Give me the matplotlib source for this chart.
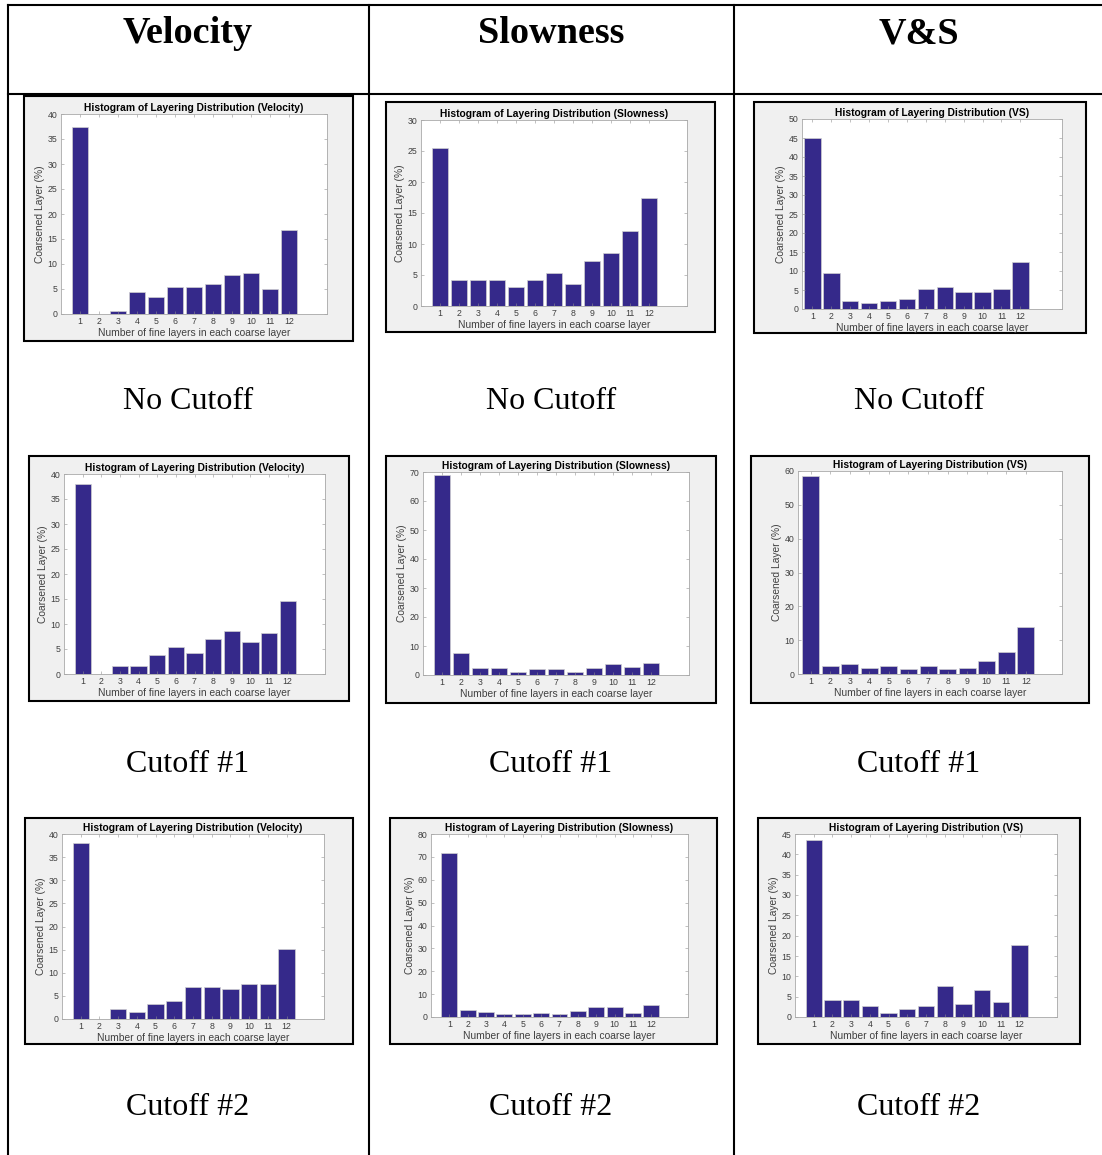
import matplotlib
matplotlib.use('Agg')
import matplotlib.pyplot as plt
from matplotlib.lines import Line2D
from matplotlib.patches import Rectangle

# --- datos (porcentaje de capas por número de capas finas) ---
layers = list(range(1, 13))

vel_none = [37.5, 0.0, 0.6, 4.4, 3.3, 5.4, 5.4, 6.0, 7.7, 8.1, 4.9, 16.8]
slo_none = [25.5, 4.2, 4.2, 4.2, 3.0, 4.2, 5.4, 3.6, 7.3, 8.5, 12.1, 17.5]
vs_none = [45.0, 9.5, 2.2, 1.7, 2.2, 2.7, 5.2, 5.7, 4.4, 4.4, 5.2, 12.5]

vel_cut1 = [38.0, 0.0, 1.6, 1.6, 3.8, 5.4, 4.3, 7.1, 8.7, 6.5, 8.2, 14.7]
slo_cut1 = [69.0, 7.5, 2.3, 2.3, 1.0, 2.0, 2.0, 1.0, 2.3, 3.8, 2.7, 4.0]
vs_cut1 = [58.5, 2.3, 3.0, 1.9, 2.3, 1.5, 2.3, 1.5, 1.9, 3.8, 6.4, 14.0]

vel_cut2 = [38.0, 0.0, 2.2, 1.6, 3.2, 3.8, 7.0, 7.0, 6.5, 7.6, 7.6, 15.2]
slo_cut2 = [71.5, 3.0, 2.0, 1.1, 1.4, 1.6, 1.1, 2.7, 4.3, 4.3, 1.9, 5.2]
vs_cut2 = [43.5, 4.2, 4.2, 2.8, 1.0, 1.9, 2.8, 7.6, 3.3, 6.6, 3.7, 17.7]

col_titles = ['Velocity', 'Slowness', 'V&S']
panel_names = ['Velocity', 'Slowness', 'VS']
row_captions = ['No Cutoff', 'Cutoff #1', 'Cutoff #2']

W, H = 1102, 1155
BAR = '#35298a'


def rect(l, t, r, b):
    # píxeles (origen arriba-izquierda) -> fracción de figura
    return [l / W, 1 - b / H, (r - l) / W, (b - t) / H]


fig = plt.figure(figsize=(W / 100, H / 100), dpi=100)
fig.patch.set_facecolor('white')

# --- líneas de la tabla ---
for x in [8, 369, 734]:
    fig.add_artist(Line2D([x / W, x / W], [1 - 5 / H, 0], transform=fig.transFigure,
                          color='black', lw=1.5))
for y in [5, 94]:
    fig.add_artist(Line2D([8 / W, 1], [1 - y / H, 1 - y / H], transform=fig.transFigure,
                          color='black', lw=1.5))

col_centers = [188, 551, 919]
for cx, t in zip(col_centers, col_titles):
    fig.text(cx / W, 1 - 43 / H, t, ha='center', va='baseline', fontsize=27.5,
             fontweight='bold', family='Liberation Serif')

caption_base = [409, 772, 1115]
for ry, cap in zip(caption_base, row_captions):
    for cx in col_centers:
        fig.text(cx / W, 1 - ry / H, cap, ha='center', va='baseline', fontsize=23,
                 family='Liberation Serif')

# --- paneles: (marco, ejes) en píxeles ---
frames = [
    [(24, 96, 353, 341), (61, 114, 327, 314)],
    [(386, 102, 715, 332), (421, 120, 687, 306)],
    [(754, 102, 1086, 333), (802, 119, 1062, 309)],
    [(29, 456, 349, 701), (64, 474, 325, 674)],
    [(386, 456, 716, 703), (423, 472, 689, 675)],
    [(751, 456, 1089, 703), (798, 471, 1062, 674)],
    [(25, 818, 353, 1044), (62, 834, 324, 1019)],
    [(390, 818, 717, 1044), (431, 834, 688, 1017)],
    [(758, 818, 1080, 1044), (795, 834, 1057, 1017)],
]
xlims = [(0, 14), (0, 14), (0.45, 14.2),
         (0, 14), (0, 14), (0.35, 13.85),
         (0, 14), (0, 14), (0, 14)]
series = [vel_none, slo_none, vs_none,
          vel_cut1, slo_cut1, vs_cut1,
          vel_cut2, slo_cut2, vs_cut2]
ylims = [(40, 5), (30, 5), (50, 5),
         (40, 5), (70, 10), (60, 10),
         (40, 5), (80, 10), (45, 5)]

for i, (fr, vals, (ymax, step)) in enumerate(zip(frames, series, ylims)):
    (fl, ft, frr, fb), (al, at, ar, ab) = fr
    fig.add_artist(Rectangle((fl / W, 1 - fb / H), (frr - fl) / W, (fb - ft) / H,
                             transform=fig.transFigure, facecolor='#f0f0f0',
                             edgecolor='black', lw=1.5, zorder=0))
    ax = fig.add_axes(rect(al, at, ar, ab))
    ax.bar(layers, vals, width=0.87, color=BAR, edgecolor='#d0d0d0', linewidth=0.5)
    ax.set_xlim(*xlims[i])
    ax.set_ylim(0, ymax)
    ax.set_xticks(layers)
    ax.set_yticks(range(0, ymax + 1, step))
    ax.tick_params(direction='in', length=2, width=0.4, colors='#909090',
                   labelcolor='#404040', labelsize=6.3, pad=2.5,
                   top=True, right=True)
    for s in ax.spines.values():
        s.set_color('#a8a8a8')
        s.set_linewidth(0.6)
    ax.set_title('Histogram of Layering Distribution (%s)' % panel_names[i % 3],
                 fontsize=7.4, fontweight='bold', family='Liberation Sans', pad=2)
    ax.set_xlabel('Number of fine layers in each coarse layer', fontsize=7.4,
                  color='#404040', family='Liberation Sans', labelpad=1)
    ax.set_ylabel('Coarsened Layer (%)', fontsize=7.4, color='#404040',
                  family='Liberation Sans', labelpad=2)
    for lab in ax.get_xticklabels() + ax.get_yticklabels():
        lab.set_family('Liberation Sans')

fig.savefig('out.png', dpi=100)
